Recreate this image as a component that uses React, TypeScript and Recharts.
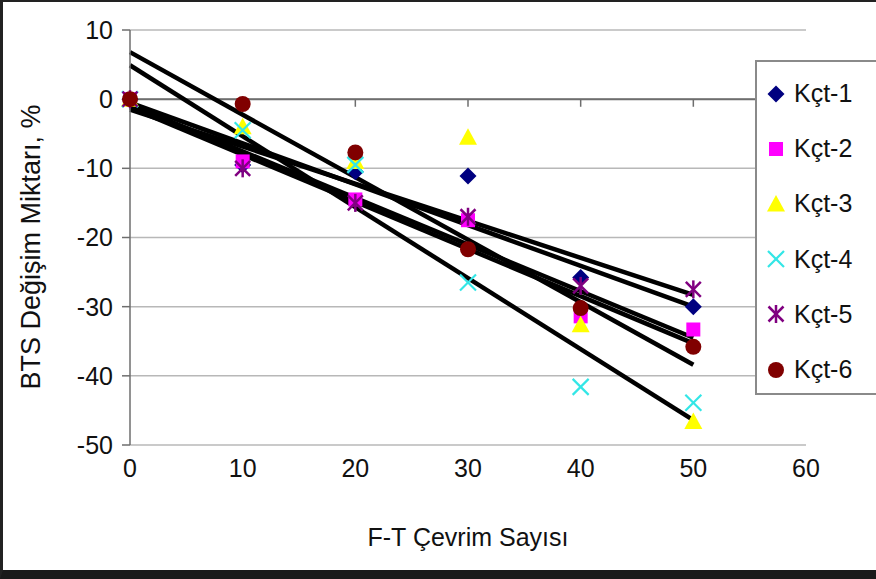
import React from 'react';
import {
  ComposedChart,
  Scatter,
  Line,
  XAxis,
  YAxis,
  CartesianGrid,
  ReferenceLine,
} from 'recharts';

const cycles = [0, 10, 20, 30, 40, 50];
const seriesNames = ['Kçt-1', 'Kçt-2', 'Kçt-3', 'Kçt-4', 'Kçt-5', 'Kçt-6'];
const seriesColors = ['#000080', '#FF00FF', '#FFFF00', '#33E6E6', '#800080', '#800000'];

const kct1 = [0, -9.5, -10.5, -11.1, -25.8, -30.0];
const kct2 = [0, -9.0, -14.5, -17.5, -31.4, -33.3];
const kct3 = [0, -4.0, -9.0, -5.5, -32.6, -46.6];
const kct4 = [0, -4.5, -9.5, -26.5, -41.6, -43.9];
const kct5 = [0, -10.0, -15.0, -17.0, -27.0, -27.5];
const kct6 = [0, -0.7, -7.7, -21.7, -30.2, -35.8];

// linear trendlines as drawn (value at 0 and at 50 cycles)
const trendStart = [-0.5, -0.8, 6.8, 4.9, -1.5, -1.2];
const trendEnd = [-30.0, -34.5, -38.4, -46.4, -28.3, -35.3];

const xTicks = [0, 10, 20, 30, 40, 50, 60];
const yTicks = [10, 0, -10, -20, -30, -40, -50];

const allValues = [kct1, kct2, kct3, kct4, kct5, kct6];
const FONT = '"Liberation Sans", Arial, Helvetica, sans-serif';

type MarkProps = { cx?: number; cy?: number; fill?: string };

const Diamond = ({ cx = 0, cy = 0, fill }: MarkProps) => (
  <polygon points={`${cx},${cy - 8.5} ${cx + 8.5},${cy} ${cx},${cy + 8.5} ${cx - 8.5},${cy}`} fill={fill} />
);
const Square = ({ cx = 0, cy = 0, fill }: MarkProps) => (
  <rect x={cx - 7} y={cy - 7} width={14} height={14} fill={fill} />
);
const Triangle = ({ cx = 0, cy = 0, fill }: MarkProps) => (
  <polygon points={`${cx},${cy - 9} ${cx + 9},${cy + 7.5} ${cx - 9},${cy + 7.5}`} fill={fill} />
);
const Cross = ({ cx = 0, cy = 0, fill }: MarkProps) => (
  <g stroke={fill} strokeWidth={2.2}>
    <line x1={cx - 8} y1={cy - 8} x2={cx + 8} y2={cy + 8} />
    <line x1={cx - 8} y1={cy + 8} x2={cx + 8} y2={cy - 8} />
  </g>
);
const Star = ({ cx = 0, cy = 0, fill }: MarkProps) => (
  <g stroke={fill} strokeWidth={2.5}>
    <line x1={cx - 7.5} y1={cy - 7.5} x2={cx + 7.5} y2={cy + 7.5} />
    <line x1={cx - 7.5} y1={cy + 7.5} x2={cx + 7.5} y2={cy - 7.5} />
    <line x1={cx} y1={cy - 9} x2={cx} y2={cy + 9} />
  </g>
);
const Dot = ({ cx = 0, cy = 0, fill }: MarkProps) => <circle cx={cx} cy={cy} r={8} fill={fill} />;

const shapes = [Diamond, Square, Triangle, Cross, Star, Dot];

const ChartLegend = () => (
  <div
    style={{
      position: 'absolute',
      left: 755,
      top: 60,
      width: 140,
      height: 335,
      boxSizing: 'border-box',
      border: '2px solid #8a8a8a',
      background: '#fff',
      paddingTop: 4,
    }}
  >
    {seriesNames.map((name, i) => {
      const Shape = shapes[i];
      return (
        <div key={name} style={{ display: 'flex', alignItems: 'center', height: 55.2 }}>
          <svg width={34} height={24} style={{ marginLeft: 2 }}>
            <Shape cx={17} cy={12} fill={seriesColors[i]} />
          </svg>
          <span style={{ fontFamily: FONT, fontSize: 25, color: '#111', marginLeft: 1 }}>{name}</span>
        </div>
      );
    })}
  </div>
);

export default function App() {
  const scatterData = allValues.map((vals) => cycles.map((c, j) => ({ x: c, y: vals[j] })));
  const trendData = trendStart.map((s, i) => [
    { x: cycles[0], y: s },
    { x: cycles[cycles.length - 1], y: trendEnd[i] },
  ]);

  return (
    <div style={{ position: 'absolute', left: 0, top: 0, width: 876, height: 579, background: '#fff', overflow: 'hidden' }}>
      <ComposedChart
        width={876}
        height={579}
        margin={{ top: 30, right: 70, bottom: 74, left: 0 }}
        style={{ fontFamily: FONT }}
      >
        <CartesianGrid horizontal vertical={false} stroke="#b8b8b8" strokeWidth={1.5} />
        <XAxis
          type="number"
          dataKey="x"
          domain={[0, 60]}
          ticks={xTicks}
          axisLine={false}
          tickLine={false}
          tickMargin={8}
          height={60}
          tick={{ fontSize: 25, fill: '#111', fontFamily: FONT }}
          label={{ content: () => (
            <text x={468} y={546} textAnchor="middle" fontSize={25} fill="#111" fontFamily={FONT}>
              F-T Çevrim Sayısı
            </text>
          ) }}
        />
        <YAxis
          type="number"
          dataKey="y"
          domain={[-50, 10]}
          ticks={yTicks}
          width={130}
          axisLine={{ stroke: '#6e6e6e', strokeWidth: 1.5 }}
          tickLine={{ stroke: '#6e6e6e', strokeWidth: 1.5 }}
          tickSize={8}
          tickMargin={9}
          tick={{ fontSize: 25, fill: '#111', fontFamily: FONT }}
          label={{ content: () => (
            <text
              x={40}
              y={247}
              transform="rotate(-90, 40, 247)"
              textAnchor="middle"
              fontSize={27}
              fill="#111"
              fontFamily={FONT}
            >
              BTS Değişim Miktarı, %
            </text>
          ) }}
        />
        <ReferenceLine y={0} stroke="#6e6e6e" strokeWidth={2} />
        {xTicks.map((t) => (
          <ReferenceLine
            key={t}
            segment={[{ x: t, y: 0 }, { x: t, y: -1.1 }]}
            stroke="#6e6e6e"
            strokeWidth={1.5}
          />
        ))}
        {scatterData.map((d, i) => (
          <Scatter
            key={seriesNames[i]}
            name={seriesNames[i]}
            data={d}
            fill={seriesColors[i]}
            shape={shapes[i]}
            isAnimationActive={false}
          />
        ))}
        {trendData.map((d, i) => (
          <Line
            key={'trend' + i}
            data={d}
            dataKey="y"
            stroke="#000"
            strokeWidth={4.5}
            dot={false}
            activeDot={false}
            legendType="none"
            isAnimationActive={false}
          />
        ))}
      </ComposedChart>
      <ChartLegend />
      <div
        style={{
          position: 'absolute',
          left: 0,
          top: 0,
          width: 876,
          height: 579,
          boxSizing: 'border-box',
          borderTop: '2px solid #222',
          borderLeft: '3px solid #222',
          borderBottom: '9px solid #1a1a1a',
          pointerEvents: 'none',
        }}
      />
    </div>
  );
}
